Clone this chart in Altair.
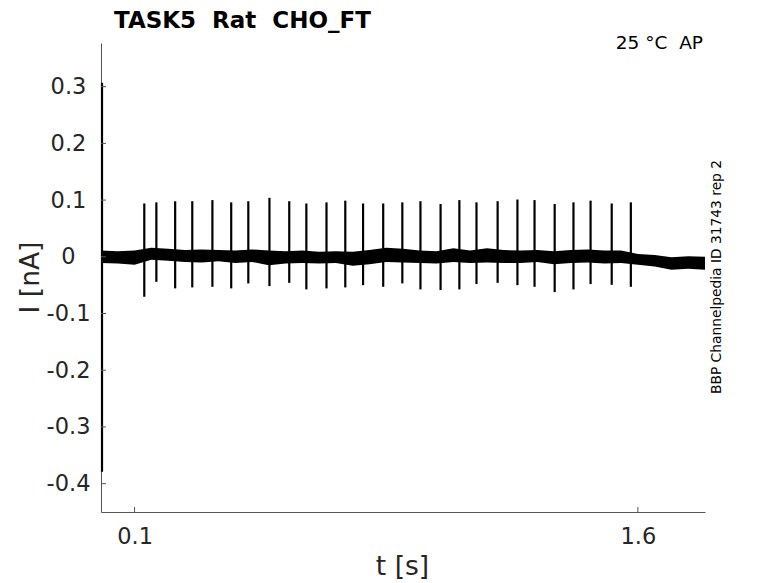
import altair as alt
import pandas as pd

# ---- data ----
# noise band envelope (time s, upper nA, lower nA)
band_t = [0.00, 0.05, 0.10, 0.15, 0.20, 0.25, 0.30, 0.35, 0.40, 0.45, 0.50, 0.55,
          0.60, 0.65, 0.70, 0.75, 0.80, 0.85, 0.90, 0.95, 1.00, 1.05, 1.10, 1.15,
          1.20, 1.25, 1.30, 1.35, 1.40, 1.45, 1.50, 1.55, 1.60, 1.65, 1.70, 1.75, 1.80]
band_hi = [0.011, 0.010, 0.011, 0.016, 0.014, 0.012, 0.013, 0.012, 0.011, 0.013, 0.011, 0.010,
           0.011, 0.009, 0.010, 0.009, 0.012, 0.016, 0.014, 0.011, 0.010, 0.015, 0.011, 0.015,
           0.012, 0.011, 0.012, 0.010, 0.012, 0.013, 0.011, 0.011, 0.005, 0.003, -0.001, 0.001, 0.000]
band_lo = [-0.011, -0.012, -0.014, -0.005, -0.007, -0.009, -0.010, -0.008, -0.011, -0.009, -0.015, -0.012,
           -0.011, -0.012, -0.011, -0.016, -0.013, -0.009, -0.010, -0.011, -0.012, -0.009, -0.011, -0.010,
           -0.011, -0.011, -0.009, -0.013, -0.011, -0.010, -0.012, -0.011, -0.014, -0.017, -0.023, -0.021, -0.023]

# spikes (time s, peak nA, trough nA)
spike_t = [0.129, 0.165, 0.221, 0.272, 0.332, 0.388, 0.439, 0.502, 0.561, 0.612, 0.672, 0.728,
           0.781, 0.841, 0.898, 0.952, 1.012, 1.068, 1.119, 1.182, 1.241, 1.292, 1.352, 1.408,
           1.459, 1.522, 1.579]
spike_hi = [0.094, 0.096, 0.098, 0.098, 0.100, 0.096, 0.098, 0.104, 0.098, 0.094, 0.096, 0.099,
            0.094, 0.094, 0.096, 0.098, 0.093, 0.100, 0.096, 0.098, 0.101, 0.100, 0.093, 0.096,
            0.099, 0.094, 0.096]
spike_lo = [-0.0705, -0.0441, -0.0557, -0.0540, -0.0529, -0.0557, -0.0469, -0.0517, -0.0459, -0.0575,
            -0.0557, -0.0540, -0.0500, -0.0529, -0.0469, -0.0575, -0.0587, -0.0575, -0.0481, -0.0459,
            -0.0500, -0.0529, -0.0623, -0.0575, -0.0481, -0.0494, -0.0529]

# capacitive transient at the start
trans_t = [0.003]
trans_hi = [0.307]
trans_lo = [-0.379]

x_ticks = [0.1, 1.6]
y_ticks = [-0.4, -0.3, -0.2, -0.1, 0.0, 0.1, 0.2, 0.3]

X_DOMAIN = [0, 1.8]
Y_DOMAIN = [-0.45, 0.377]
W, H = 604, 469
FONT = "DejaVu Sans"
TXT = "#262626"
AX = "#555555"
NB = "\u00a0"

band = pd.DataFrame({"t": band_t, "hi": band_hi, "lo": band_lo})
spikes = pd.DataFrame({"t": spike_t + trans_t, "hi": spike_hi + trans_hi, "lo": spike_lo + trans_lo})
xt = pd.DataFrame({"v": x_ticks})
yt = pd.DataFrame({"v": y_ticks})

label_expr = "replace(format(datum.value, '.1~f'), '\u2212', '-')"

xs = alt.Scale(domain=X_DOMAIN, nice=False, zero=False)
ys = alt.Scale(domain=Y_DOMAIN, nice=False, zero=False)

x_axis = alt.Axis(values=x_ticks, labelExpr=label_expr, title="t [s]", ticks=False,
                  labelPadding=13, titleX=301, titleY=54, titleBaseline="middle",
                  titleAlign="center")
y_axis = alt.Axis(values=y_ticks, labelExpr=label_expr, title="I [nA]", ticks=False,
                  labelAlign="center", labelPadding=33, titleX=-71, titleY=234,
                  titleBaseline="middle", titleAlign="center", titleAngle=270)

area = alt.Chart(band).mark_area(color="black", opacity=1, strokeWidth=0).encode(
    x=alt.X("t:Q", scale=xs, axis=x_axis),
    y=alt.Y("hi:Q", scale=ys, axis=y_axis),
    y2="lo:Q",
)

rules = alt.Chart(spikes).mark_rule(color="black", strokeWidth=2.2).encode(
    x=alt.X("t:Q", scale=xs),
    y=alt.Y("hi:Q", scale=ys),
    y2="lo:Q",
)

xtick = alt.Chart(xt).mark_rule(color=AX, strokeWidth=1).encode(
    x=alt.X("v:Q", scale=xs),
    y=alt.value(H),
    y2=alt.value(H - 5),
)
ytick = alt.Chart(yt).mark_rule(color=AX, strokeWidth=1).encode(
    y=alt.Y("v:Q", scale=ys),
    x=alt.value(0),
    x2=alt.value(5),
)

one = pd.DataFrame({"a": [0]})
title_txt = alt.Chart(one).mark_text(text=f"TASK5{NB}{NB}Rat{NB}{NB}CHO_FT", font=FONT, fontSize=23,
                                     fontWeight="bold", color="black", align="left",
                                     baseline="alphabetic").encode(
    x=alt.value(13), y=alt.value(-15))
temp_txt = alt.Chart(one).mark_text(text=f"25{NB}°C{NB}{NB}AP", font=FONT, fontSize=18.5, color="black",
                                    align="right", baseline="alphabetic").encode(
    x=alt.value(602), y=alt.value(6))
side_txt = alt.Chart(one).mark_text(text="BBP Channelpedia ID 31743 rep 2", font=FONT, fontSize=13.8,
                                    color="black", align="center", baseline="middle", angle=270).encode(
    x=alt.value(616), y=alt.value(234))

chart = alt.layer(area, rules, xtick, ytick, title_txt, temp_txt, side_txt).properties(
    width=W, height=H,
    autosize=alt.AutoSizeParams(type="none"),
    padding={"left": 93, "top": 35, "right": 65, "bottom": 72},
    background="white",
).configure_view(stroke=None).configure_axis(
    grid=False, domainColor=AX, domainWidth=1,
    labelFont=FONT, labelFontSize=22.5, labelColor=TXT,
    titleFont=FONT, titleFontSize=26.5, titleFontWeight="normal", titleColor=TXT,
)

chart.save("out.html", embed_options={"renderer": "svg", "actions": False})
